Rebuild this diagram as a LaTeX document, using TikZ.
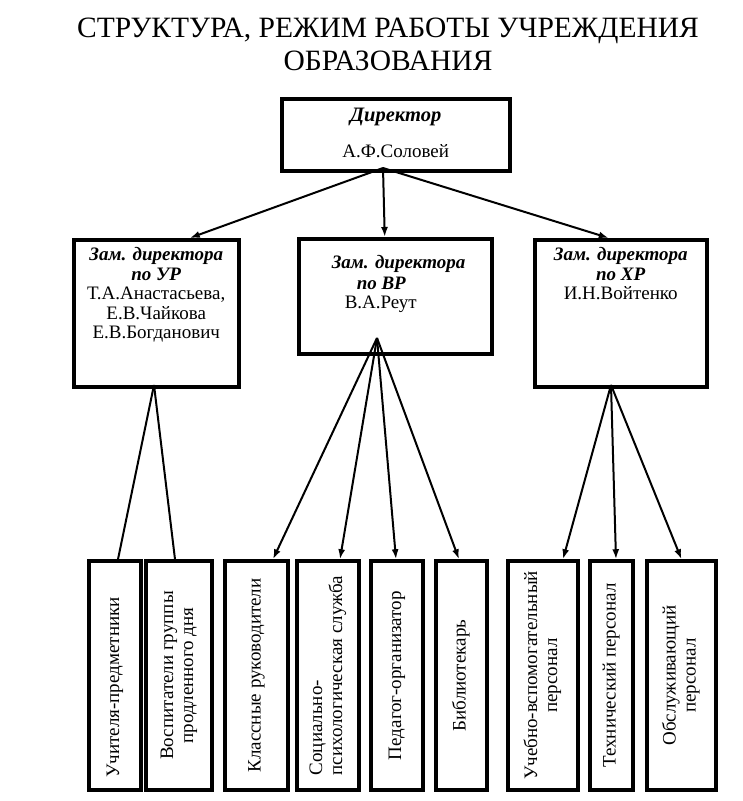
\documentclass[tikz,border=0pt]{standalone}
\usepackage{fontspec}
\setmainfont{Liberation Serif}
\usepackage{graphicx}
\usetikzlibrary{arrows.meta,positioning}

\newcommand{\topbox}[3]{\parbox[t][#2][t]{#1}{\centering #3}}
\newcommand{\upright}[2][c]{\rotatebox{90}{\begin{tabular}{@{}#1@{}}#2\end{tabular}}}
\newcommand{\bi}[1]{\textbf{\textit{#1}}}

\begin{document}
\begin{tikzpicture}[x=1pt, y=-1pt, line width=2pt,
  box/.style={draw, line width=3.5pt, rectangle, inner sep=0pt, anchor=north west,
    font=\fontsize{19}{19.5}\selectfont},
  staff/.style={draw, line width=3.5pt, rectangle, inner sep=0pt, minimum height=229pt,
    font=\fontsize{19}{20}\selectfont},
  arr/.style={-{Latex[length=10pt,width=7pt]}}]
      \useasboundingbox (0,0) rectangle (743,801);
      \node (title) at (388,44) [align=center, font=\rmfamily\fontsize{29.5}{33}\selectfont]
        {СТРУКТУРА, РЕЖИМ РАБОТЫ УЧРЕЖДЕНИЯ\\ОБРАЗОВАНИЯ};
      % head and deputies
      \node [box] (dir) at (280,97) {\topbox{228pt}{72pt}{\vspace*{9pt}%
        {\fontsize{20.5}{21}\selectfont\bi{Директор}}\\[17pt]А.Ф.Соловей}};
      \node [box] (ur) at (72,238) {\topbox{165pt}{147pt}{\vspace*{8pt}%
        \bi{Зам. директора\\по УР}\\Т.А.Анастасьева,\\Е.В.Чайкова\\Е.В.Богданович}};
      \node [box] (vr) at (297,237) {\parbox[t][115pt][t]{193pt}{\raggedright\vspace*{17pt}%
        \hspace*{33pt}\bi{Зам. директора}\\[1pt]\hspace*{58pt}\bi{по ВР}\\\hspace*{46pt}В.А.Реут}};
      \node [box] (hr) at (533,238) {\topbox{172pt}{147pt}{\vspace*{8pt}%
        \bi{Зам. директора\\по ХР}\\И.Н.Войтенко}};
      % staff
      \node [staff, minimum width=52pt] (teach) at (115,675.5) {\upright{Учителя-предметники\hspace*{24pt}}};
      \node [staff, minimum width=66pt] (tutor) at (179,675.5) {\upright{Воспитатели группы\\продленного дня}};
      \node [staff, minimum width=63pt] (class) at (256.5,675.5) {\upright{Классные руководители}};
      \node [staff, minimum width=62pt] (psych) at (328,675.5) {\upright[l]{Социально-\\психологическая служба}};
      \node [staff, minimum width=52pt] (org) at (397,675.5) {\upright{Педагог-организатор}};
      \node [staff, minimum width=51pt] (lib) at (461.5,675.5) {\upright{Библиотекарь}};
      \node [staff, minimum width=70pt] (aux) at (543,675.5) {\upright{Учебно-вспомогательный\\персонал}};
      \node [staff, minimum width=43pt] (tech) at (611.5,675.5) {\upright{Технический персонал}};
      \node [staff, minimum width=69pt] (serv) at (681.5,675.5) {\upright{Обслуживающий\\персонал}};
      % connectors
      \coordinate (dirfoot) at (383,168);
      \coordinate (urfoot) at (154,385);
      \coordinate (vrfoot) at (377,338);
      \coordinate (hrfoot) at (611,385);
      \path
      (dirfoot) edge [arr] ([xshift=33.5pt]ur.north)
      (dirfoot) edge [arr] ([xshift=-10.5pt]vr.north)
      (dirfoot) edge [arr] ([xshift=-12pt]hr.north)
      (urfoot) edge ([xshift=3pt]teach.north)
      (urfoot) edge ([xshift=-4pt]tutor.north)
      (vrfoot) edge [arr] ([xshift=16.5pt]class.north)
      (vrfoot) edge [arr] ([xshift=12pt]psych.north)
      (vrfoot) edge [arr] ([xshift=-1pt]org.north)
      (vrfoot) edge [arr] ([xshift=-2.5pt]lib.north)
      (hrfoot) edge [arr] ([xshift=20pt]aux.north)
      (hrfoot) edge [arr] ([xshift=4.5pt]tech.north)
      (hrfoot) edge [arr] (serv.north)
      ;
\end{tikzpicture}
\end{document}
